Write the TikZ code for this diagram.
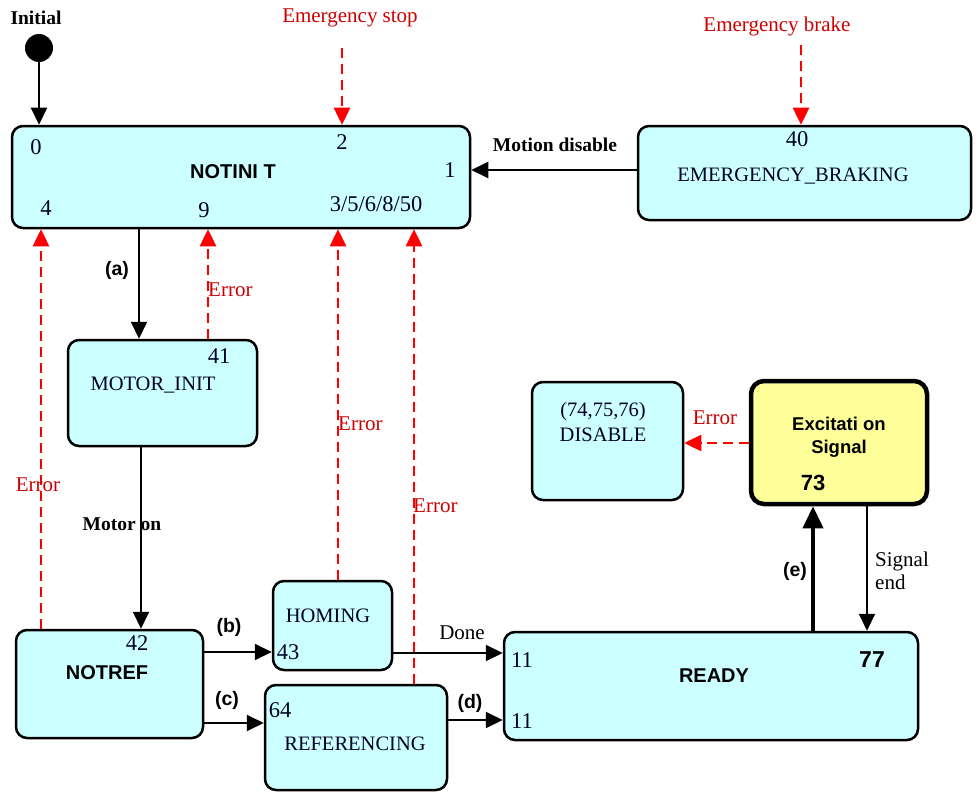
\documentclass[tikz,border=0pt]{standalone}
\usepackage{fontspec}
\setmainfont{Liberation Serif}
\setsansfont{Liberation Sans}
\usetikzlibrary{arrows.meta}
\definecolor{boxfill}{HTML}{CCFFFF}
\definecolor{yelfill}{HTML}{FFFF99}
\definecolor{errtxt}{HTML}{CC0000}
\definecolor{errline}{HTML}{FF0000}
\tikzset{
  box/.style={draw=black, line width=2.5pt, rounded corners=11pt, fill=boxfill, inner sep=0pt},
  ybox/.style={draw=black, line width=4.5pt, rounded corners=13pt, fill=yelfill, inner sep=0pt},
  sertxt/.style={font=\fontsize{20.5}{23}\selectfont, text=black!85!blue, inner sep=0pt},
  numtxt/.style={font=\fontsize{22.5}{24}\selectfont, text=black!85!blue, inner sep=0pt},
  bsans/.style={font=\sffamily\bfseries\fontsize{20}{22}\selectfont, inner sep=0pt},
  lbl/.style={font=\bfseries\fontsize{19.5}{21}\selectfont, inner sep=0pt},
  slbl/.style={font=\sffamily\bfseries\fontsize{19.5}{21}\selectfont, inner sep=0pt},
  plbl/.style={font=\fontsize{21}{23}\selectfont, inner sep=0pt},
  errlbl/.style={font=\fontsize{21}{23}\selectfont, text=errtxt, inner sep=0pt},
  arr/.style={draw=black, line width=2pt, -{Triangle[length=17pt,width=16pt]}},
  thickarr/.style={draw=black, line width=4pt, -{Triangle[length=22pt,width=20pt]}},
  errarr/.style={draw=errline, line width=2.5pt, dash pattern=on 10pt off 6pt, -{Triangle[length=17pt,width=16pt]}},
}
\begin{document}
\begin{tikzpicture}[x=1pt,y=-1pt]
\useasboundingbox[fill=white] (0,0) rectangle (978,792);

% boxes
\node[box, minimum width=458, minimum height=102] (notinit) at (241,177) {};
\node[box, minimum width=333, minimum height=94] (ebrake) at (804.5,173) {};
\node[box, minimum width=189, minimum height=106] (motorinit) at (162.5,393) {};
\node[box, minimum width=187, minimum height=108] (notref) at (109.5,684) {};
\node[box, minimum width=119, minimum height=89] (homing) at (332.5,625.5) {};
\node[box, minimum width=182, minimum height=105] (referencing) at (356,737.5) {};
\node[box, minimum width=414, minimum height=108] (ready) at (711,686) {};
\node[box, minimum width=151, minimum height=118] (disable) at (607.5,441) {};
\node[ybox, minimum width=176, minimum height=123] (excit) at (839,442.5) {};

% initial
\node[lbl] (initlbl) at (36,18) {Initial};
\node[circle, fill=black, minimum size=28pt, inner sep=0pt] (dot) at (39,48) {};

% texts in NOTINIT
\node[numtxt] (n0) at (36,147) {0};
\node[numtxt] (n2) at (342,142) {2};
\node[numtxt] (n1) at (450,170) {1};
\node[bsans] (notinittxt) at (233,172) {NOTINI T};
\node[numtxt] (n4) at (46,208) {4};
\node[numtxt] (n9) at (204,210) {9};
\node[numtxt] (n3) at (376,204) {3/5/6/8/50};

% EMERGENCY_BRAKING
\node[numtxt] (n40) at (797,139) {40};
\node[sertxt] (ebtxt) at (793,176) {EMERGENCY\_BRAKING};

% MOTOR_INIT
\node[numtxt] (n41) at (219,356) {41};
\node[sertxt] (mitxt) at (153,385) {MOTOR\_INIT};

% NOTREF
\node[numtxt] (n42) at (137,643) {42};
\node[bsans] (nrtxt) at (107,673) {NOTREF};

% HOMING
\node[sertxt] (homtxt) at (328,616) {HOMING};
\node[numtxt] (n43) at (288,652) {43};

% REFERENCING
\node[numtxt] (n64) at (280,710) {64};
\node[sertxt] (reftxt) at (355,744) {REFERENCING};

% READY
\node[numtxt] (n11a) at (522,660) {11};
\node[numtxt] (n11b) at (522,721) {11};
\node[bsans] (readytxt) at (714,676) {READY};
\node[bsans, font=\sffamily\bfseries\fontsize{23}{25}\selectfont] (n77) at (872,660) {77};

% Excitation
\node[bsans, font=\sffamily\bfseries\fontsize{18.5}{21}\selectfont, align=center] (extxt) at (839,437) {Excitati on\\[2pt]Signal};
\node[bsans, font=\sffamily\bfseries\fontsize{22}{24}\selectfont] (n73) at (813,483) {73};

% DISABLE
\node[sertxt, align=center] (distxt) at (603,422) {(74,75,76)\\[2pt]DISABLE};

% top labels
\node[errlbl] (estop) at (350,18) {Emergency stop};
\node[errlbl] (ebrk) at (777,26) {Emergency brake};
\coordinate (es) at (342,48);
\coordinate (eb) at (801,45);
\draw[errarr] (es) -- (es |- notinit.north);
\draw[errarr] (eb) -- (eb |- ebrake.north);

% initial arrow
\draw[arr] (dot.south) -- (dot |- notinit.north);

% motion disable
\coordinate (ym) at (0,170);
\draw[arr] (ebrake.west |- ym) -- (notinit.east |- ym);
\node[lbl] (mdlbl) at (555,145) {Motion disable};

% (a)
\coordinate (xa) at (139,0);
\draw[arr] (xa |- notinit.south) -- (xa |- motorinit.north);
\node[slbl] (alb) at (117,270) {(a)};

% error MOTOR_INIT -> NOTINIT
\coordinate (x9) at (208,0);
\draw[errarr] (x9 |- motorinit.north) -- (x9 |- notinit.south);
\node[errlbl, anchor=west] (err1) at (208,290) {Error};

% motor on
\coordinate (xm) at (141,0);
\draw[arr] (xm |- motorinit.south) -- (xm |- notref.north);
\node[lbl] (molbl) at (122,524) {Motor on};

% error NOTREF -> NOTINIT
\coordinate (x4) at (41,0);
\draw[errarr] (x4 |- notref.north) -- (x4 |- notinit.south);
\node[errlbl] (err2) at (38,485) {Error};

% error HOMING
\coordinate (xh) at (338,0);
\draw[errarr] (xh |- homing.north) -- (xh |- notinit.south);
\node[errlbl, anchor=west] (err3) at (338,424) {Error};

% error REFERENCING
\coordinate (xr) at (414,0);
\draw[errarr] (xr |- referencing.north) -- (xr |- notinit.south);
\node[errlbl, anchor=west] (err4) at (413,506) {Error};

% (b)
\coordinate (yb) at (0,652);
\draw[arr] (notref.east |- yb) -- (homing.west |- yb);
\node[slbl] (blb) at (229,627) {(b)};

% (c)
\coordinate (yc) at (0,723);
\draw[arr] (notref.east |- yc) -- (referencing.west |- yc);
\node[slbl] (clb) at (227,700) {(c)};

% Done
\coordinate (yd) at (0,653);
\draw[arr] (homing.east |- yd) -- (ready.west |- yd);
\node[plbl] (donelbl) at (462,633) {Done};

% (d)
\coordinate (yd2) at (0,720);
\draw[arr] (referencing.east |- yd2) -- (ready.west |- yd2);
\node[slbl] (dlb) at (470,703) {(d)};

% (e)
\coordinate (xe) at (813,0);
\draw[thickarr] (xe |- ready.north) -- (xe |- excit.south);
\node[slbl] (elb) at (795,571) {(e)};

% Signal end
\coordinate (xs) at (867,0);
\draw[arr] (xs |- excit.south) -- (xs |- ready.north);
\node[plbl, anchor=west, align=left] (selbl) at (875,571) {Signal\\end};

% Error excitation -> disable
\coordinate (yx) at (0,443);
\draw[errarr] (excit.west |- yx) -- (disable.east |- yx);
\node[errlbl] (err5) at (715,418) {Error};
\end{tikzpicture}
\end{document}
